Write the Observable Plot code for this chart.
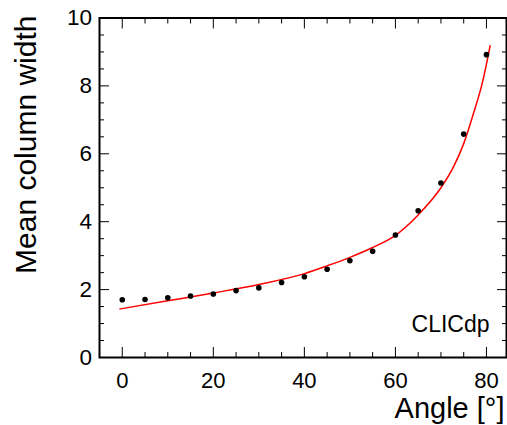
<!DOCTYPE html>
<html>
<head>
<meta charset="utf-8">
<script src="https://cdn.jsdelivr.net/npm/d3@7"></script>
<script src="https://cdn.jsdelivr.net/npm/@observablehq/plot@0.6"></script>
<style>
  html, body { margin: 0; padding: 0; background: white; }
  #chart svg { display: block; }
</style>
</head>
<body>
<div id="chart"></div>
<script>
// Measured points
const angles = [0, 5, 10, 15, 20, 25, 30, 35, 40, 45, 50, 55, 60, 65, 70, 75, 80];
const meanWidth = [1.70, 1.71, 1.76, 1.81, 1.87, 1.97, 2.05, 2.21, 2.38, 2.60, 2.85, 3.13, 3.61, 4.32, 5.14, 6.58, 8.92];

// Fit curve
const fitAngle = [-0.5, 10, 20, 30, 40, 45, 50, 55, 60, 65, 70, 72.7, 75, 77.1, 79.2, 80.8];
const fitWidth = [1.43, 1.67, 1.90, 2.15, 2.47, 2.70, 2.95, 3.24, 3.60, 4.20, 5.00, 5.60, 6.30, 7.17, 8.15, 9.18];

// Ticks
const xMajor = [0, 20, 40, 60, 80];
const xMinor = [5, 10, 15, 25, 30, 35, 45, 50, 55, 65, 70, 75];
const yMajor = [0, 2, 4, 6, 8, 10];
const yMinor = [0.5, 1, 1.5, 2.5, 3, 3.5, 4.5, 5, 5.5, 6.5, 7, 7.5, 8.5, 9, 9.5];

// Texts
const xTitle = "Angle [°]";
const yTitle = "Mean column width";
const tag = "CLICdp";

const points = angles.map((a, i) => ({angle: a, width: meanWidth[i]}));
const fit = fitAngle.map((a, i) => ({angle: a, width: fitWidth[i]}));

const font = "'Liberation Sans', Arial, Helvetica, sans-serif";

const chart = Plot.plot({
  width: 507,
  height: 425,
  marginLeft: 99,
  marginRight: 1,
  marginTop: 17.5,
  marginBottom: 68,
  x: {domain: [-5, 84.4]},
  y: {domain: [0, 10]},
  style: {fontFamily: font, background: "white", color: "black", overflow: "visible"},
  marks: [
    // bottom axis
    Plot.axisX(xMajor, {anchor: "bottom", tickSize: -10, tickPadding: 25, fontSize: 22, label: null, tickFormat: d => String(d)}),
    Plot.axisX(xMinor, {anchor: "bottom", tickSize: -5, fill: "none", label: null}),
    // top axis
    Plot.axisX(xMajor, {anchor: "top", tickSize: -10, fill: "none", label: null}),
    Plot.axisX(xMinor, {anchor: "top", tickSize: -5, fill: "none", label: null}),
    // left axis
    Plot.axisY(yMajor, {anchor: "left", tickSize: -10, tickPadding: 17.5, fontSize: 22.5, label: null, tickFormat: d => String(d)}),
    Plot.axisY(yMinor, {anchor: "left", tickSize: -5, fill: "none", label: null}),
    // right axis
    Plot.axisY(yMajor, {anchor: "right", tickSize: -10, fill: "none", label: null}),
    Plot.axisY(yMinor, {anchor: "right", tickSize: -5, fill: "none", label: null}),
    Plot.frame({stroke: "black", strokeWidth: 2}),
    Plot.line(fit, {x: "angle", y: "width", stroke: "#ff0000", strokeWidth: 1.5, curve: "monotone-x"}),
    Plot.dot(points, {x: "angle", y: "width", r: 2.8, fill: "black", stroke: null}),
    Plot.text([tag], {text: d => d, frameAnchor: "bottom-right", textAnchor: "end", lineAnchor: "bottom", dx: -17, dy: -26, fontSize: 23, fill: "black"}),
    Plot.text([xTitle], {text: d => d, frameAnchor: "bottom-right", textAnchor: "end", lineAnchor: "bottom", dx: -2, dy: 60, fontSize: 29, fill: "black"}),
    Plot.text([yTitle], {text: d => d, frameAnchor: "top-left", rotate: -90, textAnchor: "end", lineAnchor: "bottom", dx: -64, dy: -2.5, fontSize: 30, fill: "black"})
  ]
});

document.getElementById("chart").appendChild(chart);
</script>
</body>
</html>
